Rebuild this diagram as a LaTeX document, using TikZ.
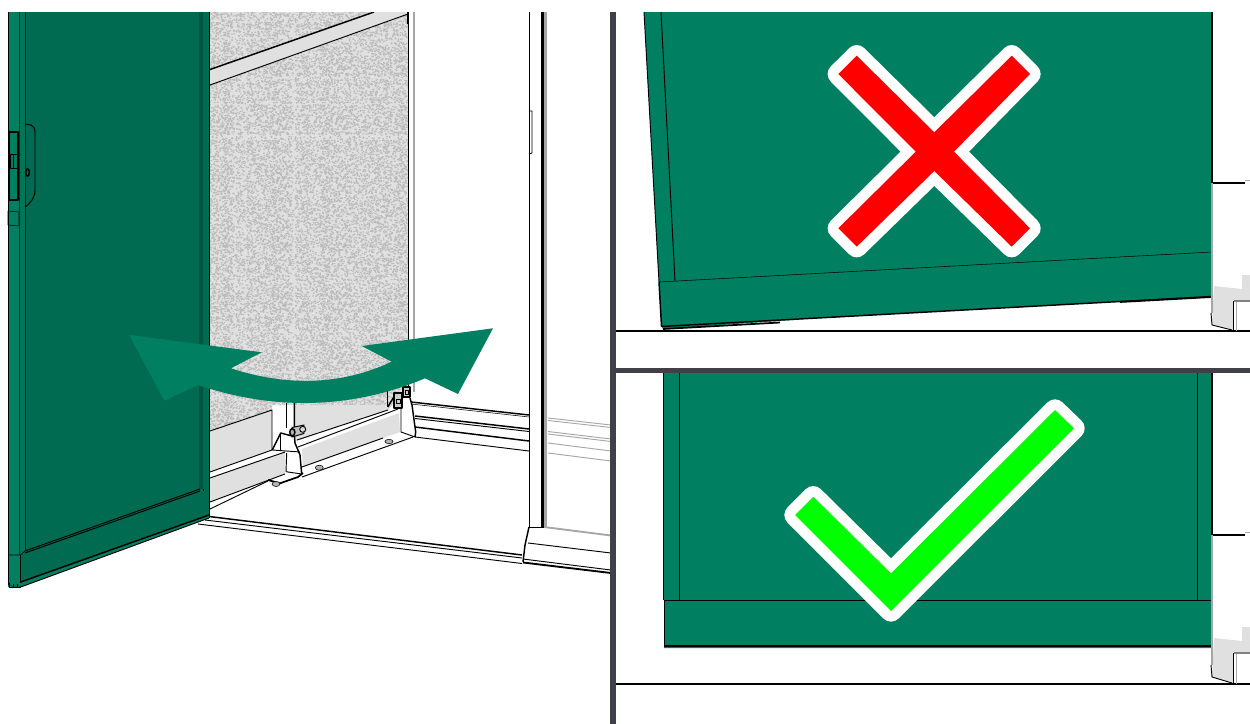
\documentclass[tikz,border=0pt]{standalone}
\usetikzlibrary{patterns}
\definecolor{gmid}{HTML}{008060}
\definecolor{gdark}{HTML}{006B50}
\definecolor{gdeep}{HTML}{00553F}
\definecolor{bar}{HTML}{404048}
\definecolor{pale}{HTML}{E0E0E0}
\definecolor{spk}{HTML}{BABABA}
\pgfdeclarepatternformonly{speck}{\pgfqpoint{0pt}{0pt}}{\pgfqpoint{44pt}{44pt}}{\pgfqpoint{44pt}{44pt}}{%
  \pgfmathsetseed{4711}%
  \foreach \k in {1,...,420}{%
    \pgfmathrandominteger{\rx}{0}{4290}%
    \pgfmathrandominteger{\ry}{0}{4300}%
    \pgfmathsetlengthmacro{\ax}{\rx*0.01}%
    \pgfmathsetlengthmacro{\ay}{\ry*0.01}%
    \pgfpathrectangle{\pgfqpoint{\ax}{\ay}}{\pgfqpoint{1.1pt}{0.9pt}}%
    \pgfusepath{fill}%
  }%
}
\pgfdeclarepatternformonly{speckb}{\pgfqpoint{0pt}{0pt}}{\pgfqpoint{37pt}{37pt}}{\pgfqpoint{37pt}{37pt}}{%
  \pgfmathsetseed{1913}%
  \foreach \k in {1,...,300}{%
    \pgfmathrandominteger{\rx}{0}{3590}%
    \pgfmathrandominteger{\ry}{0}{3600}%
    \pgfmathsetlengthmacro{\ax}{\rx*0.01}%
    \pgfmathsetlengthmacro{\ay}{\ry*0.01}%
    \pgfpathrectangle{\pgfqpoint{\ax}{\ay}}{\pgfqpoint{1.1pt}{0.9pt}}%
    \pgfusepath{fill}%
  }%
}
\tikzset{
  ln/.style={draw=black,line width=0.7pt,line join=round},
  hv/.style={draw=black,line width=1.1pt,line join=round},
  thn/.style={draw=black,line width=0.4pt,line join=round},
  gl/.style={draw=gray!70,line width=0.7pt},
  dv/.style={fill=bar,draw=none},
  halo/.style={draw=white,line width=16pt,line join=round},
}
\begin{document}
\begin{tikzpicture}[x=0.75pt,y=-0.75pt]
\useasboundingbox (0,0) rectangle (1250,724);
\fill[white] (0,0) rectangle (1250,724);
% ---- speckled wall
\begin{scope}
\clip (209,12) -- (408,12) -- (408,385) -- (388,410) -- (295,441) -- (295,405) -- (272,405) -- (272,410) -- (209,432) -- cycle;
\fill[pale] (209,12) rectangle (408,440);
\fill[pattern=speck,pattern color=spk] (209,12) rectangle (408,440);
\fill[pattern=speckb,pattern color=spk] (209,12) rectangle (408,440);
\end{scope}
% ---- wall band
\fill[pale] (210,70) -- (373,12) -- (408,12) -- (408,14) -- (210,85) -- cycle;
\draw[hv] (210,69.5) -- (374,12);
\draw[ln] (210,85) -- (408,14);
% ---- pale panels at the foot of the wall
\fill[pale] (209,431) -- (272,410) -- (272,450) -- (209,472) -- cycle;
\fill[pale] (209,478) -- (285,452) -- (285,474) -- (209,502) -- cycle;
\fill[pale] (295,405) -- (388,405) -- (388,410) -- (300,439) -- (295,441) -- cycle;
\fill[pale] (302,449) -- (399,413) -- (400,432) -- (303,467) -- cycle;
\draw[ln] (210,431) -- (272,410) -- (272,450) -- (210,472);
\draw[ln] (210,478) -- (285,452);
\draw[ln] (210,502) -- (285,474);
\draw[ln] (210,509) -- (268,481);
\draw[ln] (297,440) -- (388,410);
\draw[ln] (298,447) -- (398,409);
\draw[ln] (302,467) -- (383,438);
\draw[ln] (302,477) -- (413,437);
\draw[ln] (401,409) -- (401,432) -- (415,437);
% ---- wall right edge
\draw[ln] (408,12) -- (408,388);
\draw[gl,line width=1.5pt] (413.5,12) -- (413.5,392);
\draw[hv,line width=2pt] (408,12) -- (408,24);
% ---- left hinge
\fill[white] (286.5,453) -- (286,472) -- (301.5,474) -- (300,455) -- (295,443) -- (294.3,405) -- (286.7,405) -- cycle;
\draw[ln] (286.7,403) -- (286.7,428);
\draw[hv] (294.3,403) -- (294.3,435) -- (295,443) -- (300,455) -- (301.7,474);
\draw[ln] (286.7,453) -- (286,471.7) -- (301.7,474);
\draw[hv] (272.3,450) -- (280.7,433) -- (292,436);
\draw[hv] (280.7,433) -- (280.7,450);
\draw[ln] (272.3,450) -- (300,452);
\draw[hv,line width=1.3pt] (268,480) -- (280,483.3) -- (298,477) -- (303,473);
\fill[gray!60,draw=black,line width=0.4pt] (276,484) ellipse (4 and 2.5);
\fill[gray!60,draw=black,line width=0.4pt] (319.3,467.7) ellipse (4 and 2.5);
\fill[gray!50,draw=black,line width=0.7pt] (292,427.5) -- (304,425) -- (304,433.5) -- (292,437) -- cycle;
\draw[hv,fill=gray!60] (292.3,432.3) ellipse (2.6 and 3.6);
\draw[ln,fill=gray!30] (302.7,429.3) circle (3);
% ---- right hinge
\draw[ln] (387.7,390) -- (387.7,407);
\draw[hv] (387.7,407) -- (395,395);
\draw[hv,fill=gray!40] (394,393) rectangle (402,408);
\draw[hv,fill=gray!40] (403,387) rectangle (410,397);
\draw[ln] (396,399) rectangle (400,403);
\draw[ln] (405,390) rectangle (408,394);
\draw[hv] (410,398) -- (412,405) -- (415,427) -- (415.7,432) -- (415,437);
\fill[gray!60,draw=black,line width=0.4pt] (389,441.5) ellipse (4 and 2.2);
% ---- room rear skirting
\draw[hv] (411,402) -- (529,415);
\draw[thn] (411,404) -- (529,417);
\draw[hv] (415,416) -- (529,429);
\draw[ln] (415,418.5) -- (529,431.5);
\draw[hv] (415,427) -- (529,441);
\draw[ln] (415,437) -- (529,451);
% ---- door frame
\draw[ln] (529,12) -- (529,527);
\draw[ln] (529,111) -- (532,111) -- (532,153) -- (529,154);
\draw[hv,line width=1.7pt] (542.5,12) -- (542.5,527);
\draw[gl,line width=2pt] (545.5,12) -- (545.5,527);
% ---- behind glass
\draw[gl] (548,418) -- (611,425);
\draw[gl] (548,420.5) -- (611,427.5);
\draw[gl] (548,431.5) -- (611,439);
\draw[gl] (548,434) -- (611,441.5);
\draw[gl] (548,443) -- (611,451);
\draw[gl] (548,453) -- (611,461);
% ---- sill
\draw[gl,line width=1.4pt] (544,527) -- (611,535.5);
\draw[ln] (529,527) -- (544,527);
\draw[hv] (529,527) -- (525,545) -- (523,562);
\draw[ln] (528,543) -- (611,553);
\draw[ln] (523,559) -- (611,570);
\draw[hv,line width=1.4pt] (523,562.5) -- (611,573);
\draw[hv] (205,516) -- (522,555);
\draw[ln] (205,520) -- (522,558);
\draw[ln] (198,524) -- (522,563.5);
% ---- door
\fill[gdark] (8,12) -- (209,12) -- (209,518) -- (20.7,587) -- (8,587) -- cycle;
\fill[gmid] (8,12) rectangle (19.5,585);
\fill[gmid!92!black] (19.5,12) rectangle (25,551);
\fill[gmid] (8,555) rectangle (20.7,585);
\fill[gdark] (20,555) -- (209,489) -- (209,515) -- (20.7,582) -- cycle;
\fill[gmid] (20.7,582) -- (209,515) -- (209,518) -- (20.7,587) -- cycle;
\fill[gdeep] (199,12) rectangle (203,489);
\fill[gmid!85!black] (205,12) rectangle (209,489);
\draw[thn,draw=gdeep!60!black] (19.5,12) -- (19.5,555);
\draw[ln,draw=gdeep!40!black] (25,12) -- (25,551);
\draw[thn] (8,12) -- (8,585);
\draw[thn] (209,12) -- (209,518);
\draw[ln] (25,551) -- (200,489);
\draw[ln] (25,553) -- (200,491);
\draw[thn] (203,489) -- (203,491);
\draw[thn] (8,555) -- (20.7,555) -- (25,551);
\draw[hv] (20.7,555) -- (20.7,583);
\draw[hv] (20.7,582) -- (209,515);
\draw[ln] (20.7,587) -- (209,518);
\draw[thn] (9,583) -- (9,587) -- (20.7,587);
\draw[thn] (13,584) -- (13,587);
\draw[thn] (17,584) -- (17,587);
% lock
\draw[hv] (9,132) rectangle (18,200);
\draw[ln] (10,154) rectangle (17,168);
\draw[ln] (13,154) -- (13,168);
\draw[thn] (8,211) -- (19,212) -- (19,226) -- (8,225) -- cycle;
\draw[ln] (25,124) -- (31,125) .. controls (34,126) and (35,129) .. (35,133) -- (35,190) .. controls (35,198) and (30,204) .. (25,207);
\draw[hv] (27.5,172.5) ellipse (1.8 and 3.8);
% ---- arrow
\fill[gmid] (129.3,335) -- (261.7,352.3) -- (231,368.3) .. controls (285,386) and (340,386) .. (391.7,361.7) -- (361.7,346) -- (493,328.3) -- (458,394) -- (425,378.3) .. controls (350,410) and (272,410) .. (198,385) -- (164.3,400.7) -- cycle;
% ---- right: upper panel
\fill[gmid] (644,12) -- (1212,12) -- (1212,296) -- (661.5,327) -- cycle;
\fill[gmid] (662,327) -- (800,319.5) -- (663,329) -- cycle;
\draw[ln] (644,12) -- (659,282);
\draw[hv] (659,282) -- (661.5,326.5) -- (1212,296.5);
\draw[hv,line width=1.3pt] (663,329) -- (780,322.5);
\draw[hv,line width=1.3pt] (1120,302) -- (1212,297);
\draw[ln] (661,12) -- (675,281);
\draw[thn] (659,282) -- (1212,252);
\draw[hv] (612,331) -- (1250,331);
% cross
\def\crosspath{(838.3,74) -- (856.7,55.7) -- (934.3,132.3) -- (1011.7,55.7) -- (1030,74) -- (954,151.7) -- (1030,228.3) -- (1011.7,246.7) -- (934.3,171) -- (856.7,246.7) -- (838.3,228.3) -- (915.7,151.7) -- cycle}
\draw[halo] \crosspath;
\fill[red] \crosspath;
% ---- right: lower panel
\fill[gmid] (663,373) -- (1211,373) -- (1211,648) -- (664,648) -- (664,600) -- (663,600) -- cycle;
\draw[ln] (663,373) -- (663,600);
\draw[ln] (679.5,373) -- (679.5,600);
\draw[ln] (1197,373) -- (1197,600);
\draw[ln,line width=0.6pt] (664,600.5) -- (1211,600.5);
\draw[ln] (664,600) -- (664,645);
\draw[hv,line width=1.5pt] (664,645.5) -- (1211,645.5);
\draw[hv] (612,684) -- (1250,684);
% tick
\def\tickpath{(795,515) -- (813.3,496.7) -- (891,573.3) -- (1055,410) -- (1074,428.3) -- (891,611) -- cycle}
\draw[halo] \tickpath;
\fill[green] \tickpath;
% ---- right side details, upper
\fill[pale] (1214,286) -- (1242,289) -- (1242,275) -- (1250,275) -- (1250,301) -- (1233,301) -- (1233,330) -- (1212,325) -- cycle;
\draw[hv,line width=2pt] (1212,12) -- (1212,183);
\draw[hv] (1212,183) -- (1245,183);
\draw[gl] (1245,180) -- (1250,180);
\draw[gl,line width=1.2pt] (1212,183) -- (1212,313);
\draw[ln] (1211,313) -- (1212,325) -- (1232,330);
\draw[hv] (1233.5,301) -- (1233.5,331);
\draw[gl] (1236,301) -- (1236,331);
\draw[gl,line width=1.1pt,draw=gray] (1234,301) -- (1250,301);
% ---- right side details, lower
\fill[pale] (1214,638) -- (1242,641) -- (1242,627) -- (1250,627) -- (1250,653) -- (1233,653) -- (1233,683) -- (1212,677) -- cycle;
\draw[hv,line width=2pt] (1212,373) -- (1212,535);
\draw[hv] (1212,535) -- (1245,535);
\draw[gl] (1245,532) -- (1250,532);
\draw[gl,line width=1.2pt] (1212,535) -- (1212,665);
\draw[ln] (1211,665) -- (1212,677) -- (1232,683);
\draw[hv] (1233.5,653) -- (1233.5,684);
\draw[gl] (1236,653) -- (1236,684);
\draw[gl,line width=1.1pt,draw=gray] (1234,653) -- (1250,653);
% ---- dividers
\fill[dv] (610,12) rectangle (615.5,724);
\fill[dv] (610,368) rectangle (1250,373);
% top margin
\fill[white] (0,0) rectangle (1250,12);
\end{tikzpicture}
\end{document}
